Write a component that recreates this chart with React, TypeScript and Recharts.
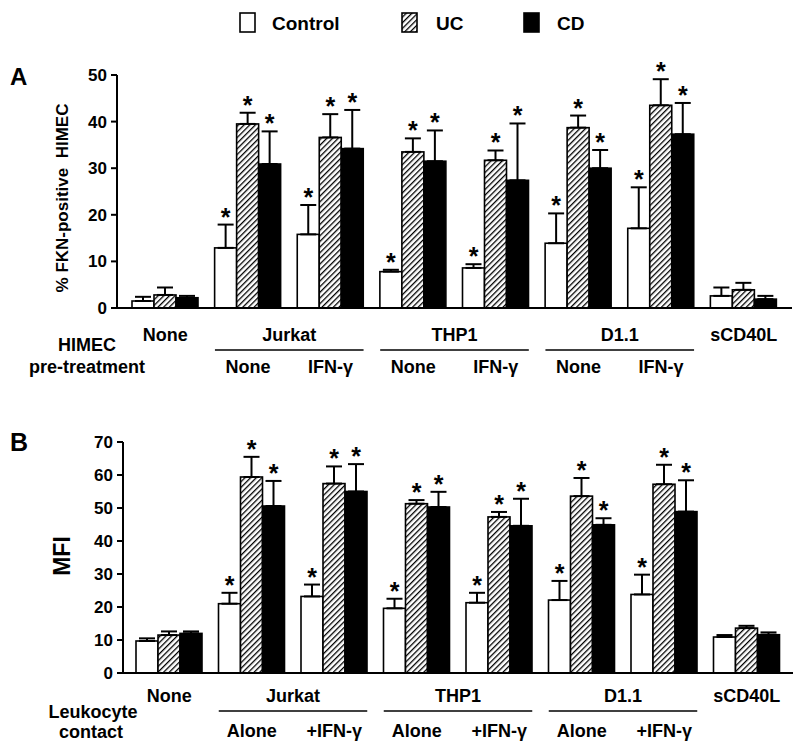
import React from "react";
import { BarChart, Bar, XAxis, YAxis, ErrorBar } from "recharts";

const FONT = '"Liberation Sans", Arial, sans-serif';

// categories: cell line + treatment
const cellLines = ["None", "Jurkat", "Jurkat", "THP1", "THP1", "D1.1", "D1.1", "sCD40L"];
const treatA = ["", "None", "IFN-γ", "None", "IFN-γ", "None", "IFN-γ", ""];
const treatB = ["", "Alone", "+IFN-γ", "Alone", "+IFN-γ", "Alone", "+IFN-γ", ""];
const starred = [false, true, true, true, true, true, true, false];

// panel A: % FKN-positive HIMEC
const ctrlA = [1.5, 12.9, 15.8, 7.8, 8.6, 13.9, 17.1, 2.6];
const ctrlAErr = [0.9, 5.0, 6.3, 0.4, 0.8, 6.4, 8.8, 1.8];
const ucA = [2.8, 39.5, 36.6, 33.5, 31.7, 38.7, 43.5, 3.9];
const ucAErr = [1.6, 2.4, 5.0, 2.9, 2.1, 2.6, 5.6, 1.5];
const cdA = [2.2, 30.9, 34.2, 31.5, 27.4, 30.0, 37.3, 1.9];
const cdAErr = [0.4, 7.0, 8.3, 6.6, 12.2, 3.9, 6.7, 0.7];
const ticksA = [0, 10, 20, 30, 40, 50];

// panel B: MFI
const ctrlB = [9.7, 21.0, 23.2, 19.6, 21.3, 22.1, 23.8, 10.9];
const ctrlBErr = [0.8, 3.3, 3.6, 2.9, 3.0, 5.8, 6.0, 0.6];
const ucB = [11.5, 59.4, 57.4, 51.3, 47.3, 53.6, 57.2, 13.6];
const ucBErr = [1.1, 6.1, 5.2, 1.1, 1.5, 5.5, 5.9, 0.7];
const cdB = [12.0, 50.6, 55.0, 50.3, 44.6, 44.9, 48.9, 11.6];
const cdBErr = [0.6, 7.6, 8.3, 4.6, 8.2, 2.0, 9.5, 0.7];
const ticksB = [0, 10, 20, 30, 40, 50, 60, 70];

const buildRows = (treat: string[], c: number[], ce: number[], u: number[], ue: number[], d: number[], de: number[]) =>
  cellLines.map((cell, i) => ({
    key: `${cell}|${treat[i]}|${i}`,
    idx: i,
    ctrl: c[i],
    ctrlErr: ce[i],
    uc: u[i],
    ucErr: ue[i],
    cd: d[i],
    cdErr: de[i],
  }));

const dataA = buildRows(treatA, ctrlA, ctrlAErr, ucA, ucAErr, cdA, cdAErr);
const dataB = buildRows(treatB, ctrlB, ctrlBErr, ucB, ucBErr, cdB, cdBErr);

const makeShape = (fill: string, valKey: string, errKey: string) => (p: any) => {
  const { x, y, width, height, payload } = p;
  const v = payload[valKey];
  const e = payload[errKey];
  const ppu = v ? height / v : 0;
  const top = y - e * ppu;
  return (
    <g>
      <rect x={x} y={y} width={width} height={height} fill={fill} stroke="#000" strokeWidth={1.6} />
      {starred[payload.idx] ? (
        <text x={x + width / 2} y={top + 1} textAnchor="middle" fontSize={25} fontWeight="bold" fontFamily={FONT} fill="#000">
          *
        </text>
      ) : null}
    </g>
  );
};

const makeTick = (treat: string[], row1: number, lineY: number, row3: number) => (p: any) => {
  const { x, y, payload } = p;
  const i = payload.index;
  const half = payload.offset ?? 41;
  const band = half * 2;
  const txt = { fontSize: 18, fontWeight: "bold" as const, fontFamily: FONT, fill: "#000", textAnchor: "middle" as const };
  if (!treat[i]) {
    return <text x={x} y={y + row1} {...txt}>{cellLines[i]}</text>;
  }
  const first = i % 2 === 1;
  return (
    <g>
      {first ? (
        <>
          <text x={x + band / 2} y={y + row1} {...txt}>{cellLines[i]}</text>
          <line x1={x - 33} x2={x + band + 33} y1={y + lineY} y2={y + lineY} stroke="#000" strokeWidth={1.5} />
        </>
      ) : null}
      <text x={x} y={y + row3} {...txt}>{treat[i]}</text>
    </g>
  );
};

const yTick = (p: any) => (
  <text x={p.x} y={p.y} dy={6} textAnchor="end" fontSize={17} fontWeight="bold" fontFamily={FONT} fill="#000">
    {p.payload.value}
  </text>
);

function Panel(props: {
  data: any[];
  ticks: number[];
  treat: string[];
  height: number;
  margin: any;
  pad: number;
  rows: [number, number, number];
}) {
  const { data, ticks, treat, height, margin, pad, rows } = props;
  return (
    <BarChart width={800} height={height} data={data} margin={margin} barSize={22} barGap={0}>
      <XAxis
        dataKey="key"
        interval={0}
        height={70}
        tickLine={false}
        tickSize={0}
        tickMargin={0}
        padding={{ left: pad, right: pad }}
        axisLine={{ stroke: "#000", strokeWidth: 2 }}
        tick={makeTick(treat, rows[0], rows[1], rows[2])}
      />
      <YAxis
        width={60}
        domain={[ticks[0], ticks[ticks.length - 1]]}
        ticks={ticks}
        interval={0}
        tickSize={6}
        tickMargin={4}
        axisLine={{ stroke: "#000", strokeWidth: 2 }}
        tickLine={{ stroke: "#000", strokeWidth: 2 }}
        tick={yTick}
      />
      <Bar dataKey="ctrl" isAnimationActive={false} shape={makeShape("#fff", "ctrl", "ctrlErr")}>
        <ErrorBar dataKey={(d: any) => [0, d.ctrlErr]} width={8} stroke="#000" strokeWidth={2} direction="y" />
      </Bar>
      <Bar dataKey="uc" isAnimationActive={false} shape={makeShape("url(#hatch)", "uc", "ucErr")}>
        <ErrorBar dataKey={(d: any) => [0, d.ucErr]} width={8} stroke="#000" strokeWidth={2} direction="y" />
      </Bar>
      <Bar dataKey="cd" isAnimationActive={false} shape={makeShape("#000", "cd", "cdErr")}>
        <ErrorBar dataKey={(d: any) => [0, d.cdErr]} width={8} stroke="#000" strokeWidth={2} direction="y" />
      </Bar>
    </BarChart>
  );
}

export default function App() {
  const t = { fontFamily: FONT, fontWeight: "bold" as const, fill: "#000" };
  return (
    <div style={{ position: "absolute", left: 0, top: 0, width: 800, height: 751, background: "#fff", overflow: "hidden" }}>
      <svg width={0} height={0} style={{ position: "absolute" }}>
        <defs>
          <pattern id="hatch" patternUnits="userSpaceOnUse" width={4} height={4} patternTransform="rotate(45)">
            <rect width={4} height={4} fill="#fff" />
            <line x1={0} y1={0} x2={0} y2={4} stroke="#000" strokeWidth={2.6} />
          </pattern>
        </defs>
      </svg>

      <div style={{ position: "absolute", left: 0, top: 40 }}>
        <Panel data={dataA} ticks={ticksA} treat={treatA} height={345} margin={{ top: 35, right: 8, bottom: 7, left: 57 }} pad={7} rows={[33, 42, 65]} />
      </div>
      <div style={{ position: "absolute", left: 0, top: 405 }}>
        <Panel data={dataB} ticks={ticksB} treat={treatB} height={346} margin={{ top: 37, right: 7, bottom: 8, left: 63 }} pad={5} rows={[29, 38, 64]} />
      </div>

      <svg width={800} height={751} style={{ position: "absolute", left: 0, top: 0, pointerEvents: "none" }}>
        {/* legend */}
        <rect x={240} y={13} width={15} height={19} fill="#fff" stroke="#000" strokeWidth={1.6} />
        <text x={272} y={30} fontSize={19} {...t}>Control</text>
        <rect x={402} y={13} width={15} height={19} fill="url(#hatch)" stroke="#000" strokeWidth={1.6} />
        <text x={436} y={30} fontSize={19} {...t}>UC</text>
        <rect x={524} y={13} width={15} height={19} fill="#000" stroke="#000" strokeWidth={1.6} />
        <text x={557} y={30} fontSize={19} {...t}>CD</text>

        {/* panel letters */}
        <text x={10} y={85} fontSize={24} {...t}>A</text>
        <text x={10} y={451} fontSize={25} {...t}>B</text>

        {/* y-axis titles */}
        <text x={62} y={198} fontSize={17} textAnchor="middle" dominantBaseline="central" transform="rotate(-90 62 198)" style={{ whiteSpace: "pre" }} {...t}>
          {"% FKN-positive  HIMEC"}
        </text>
        <text x={62} y={556} fontSize={23} textAnchor="middle" dominantBaseline="central" transform="rotate(-90 62 556)" {...t}>
          MFI
        </text>

        {/* row titles */}
        <text x={87} y={351} fontSize={18} textAnchor="middle" {...t}>HIMEC</text>
        <text x={87} y={373} fontSize={18} textAnchor="middle" {...t}>pre-treatment</text>
        <text x={93} y={718} fontSize={18} textAnchor="middle" {...t}>Leukocyte</text>
        <text x={91} y={738} fontSize={18} textAnchor="middle" {...t}>contact</text>
      </svg>
    </div>
  );
}
